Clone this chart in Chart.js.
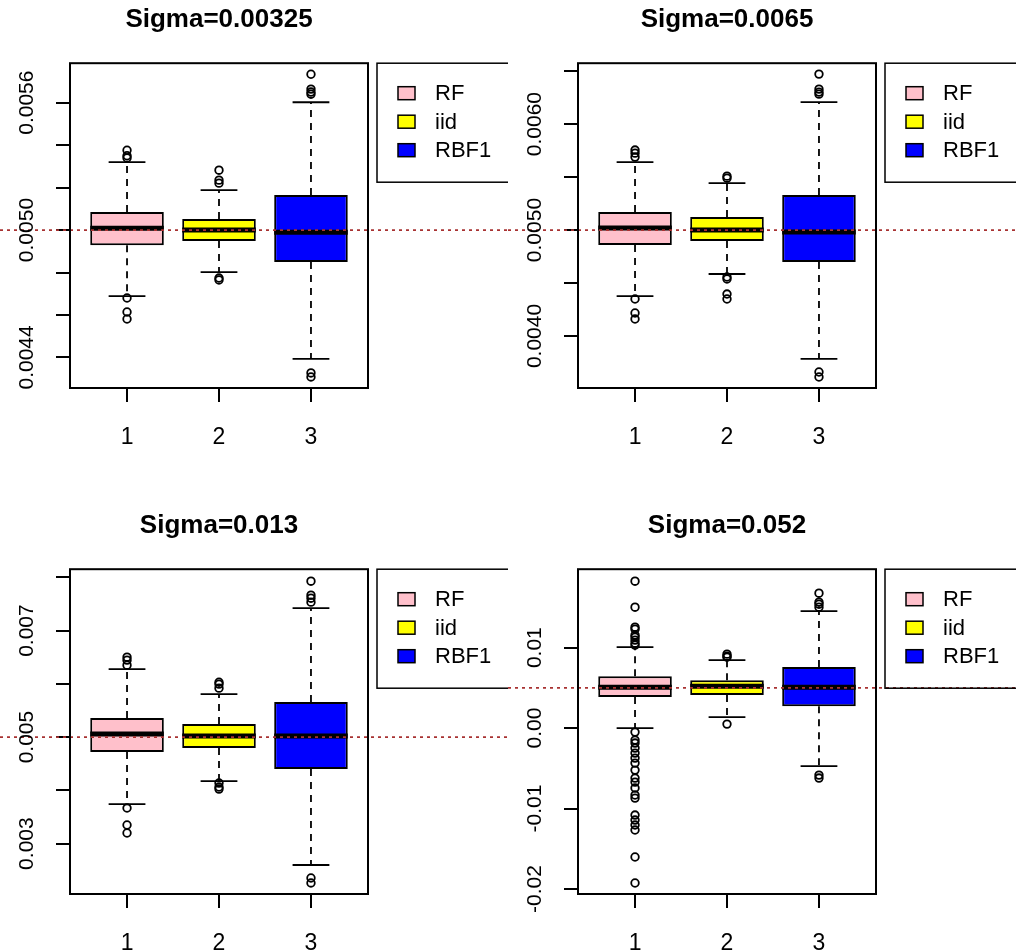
<!DOCTYPE html>
<html>
<head>
<meta charset="utf-8">
<title>Sigma boxplots</title>
<script src="https://cdn.jsdelivr.net/npm/chart.js@4.4.1/dist/chart.umd.min.js"></script>
<style>
  html, body { margin: 0; padding: 0; background: #fff; overflow: hidden; }
  #wrap { position: relative; width: 1016px; height: 951px; }
  .panel { position: absolute; width: 508px; height: 460px; }
</style>
</head>
<body>
<div id="wrap">
  <div class="panel" style="left:0;top:0"><canvas id="p0" width="508" height="460"></canvas></div>
  <div class="panel" style="left:508px;top:0"><canvas id="p1" width="508" height="460"></canvas></div>
  <div class="panel" style="left:0;top:506px"><canvas id="p2" width="508" height="460"></canvas></div>
  <div class="panel" style="left:508px;top:506px"><canvas id="p3" width="508" height="460"></canvas></div>
</div>
<script>
// Panel titles and groups
const titles = ["Sigma=0.00325", "Sigma=0.0065", "Sigma=0.013", "Sigma=0.052"];
const groups = [1, 2, 3];
const seriesNames = ["RF", "iid", "RBF1"];
const trueValue = 0.005;

// Box statistics, one row per panel, one column per method (RF, iid, RBF1)
const whiskerLow = [
  [0.004689, 0.004802, 0.004393],
  [0.004377, 0.004585, 0.003783],
  [0.003743, 0.004175, 0.002598],
  [0.0,      0.00137, -0.00472]
];
const boxLow = [
  [0.004929, 0.004948, 0.00485],
  [0.004858, 0.004896, 0.004698],
  [0.004719, 0.004794, 0.0044],
  [0.00385,  0.0041,   0.00273]
];
const medians = [
  [0.005009, 0.0050,   0.00499],
  [0.005019, 0.0050,   0.004981],
  [0.005056, 0.005019, 0.005019],
  [0.00509,  0.0052,   0.00509]
];
const boxHigh = [
  [0.005085, 0.005052, 0.005165],
  [0.00517,  0.005123, 0.00533],
  [0.005356, 0.005244, 0.005657],
  [0.00646,  0.00596,  0.00758]
];
const whiskerHigh = [
  [0.00532,  0.005188, 0.005602],
  [0.005642, 0.005443, 0.006208],
  [0.006276, 0.005806, 0.00742],
  [0.01006,  0.00845,  0.01453]
];
const outliers = [
  [
    [0.005376, 0.00535, 0.00534, 0.00468, 0.004614, 0.004581],
    [0.005282, 0.005235, 0.005221, 0.004774, 0.004765],
    [0.005734, 0.005664, 0.00565, 0.00564, 0.004327, 0.004308]
  ],
  [
    [0.005755, 0.005726, 0.005689, 0.004349, 0.004217, 0.00416],
    [0.005509, 0.00549, 0.004557, 0.004538, 0.004396, 0.004349],
    [0.006472, 0.00633, 0.006302, 0.006283, 0.00366, 0.003613]
  ],
  [
    [0.0065, 0.006444, 0.00635, 0.003668, 0.003349, 0.003199],
    [0.00603, 0.005994, 0.005919, 0.004137, 0.004062, 0.004024],
    [0.007927, 0.007664, 0.007608, 0.007533, 0.002355, 0.002261]
  ],
  [
    [0.01826, 0.01503, 0.01255, 0.0123, 0.01155, 0.0113, 0.01093, 0.01056, 0.01031,
     -0.0005, -0.00149, -0.00186, -0.00248, -0.00311, -0.00373, -0.00435, -0.00522,
     -0.00621, -0.00671, -0.00745, -0.00832, -0.0087, -0.01081, -0.01143, -0.01205,
     -0.01267, -0.01602, -0.01925],
    [0.00919, 0.00894, 0.00882, 0.0005],
    [0.01677, 0.01565, 0.0154, 0.01503, -0.00584, -0.00621]
  ]
];

// Y axis per panel
const yMin = [0.004256, 0.003509, 0.002054, -0.02062];
const yMax = [0.005786, 0.006575, 0.008152, 0.01975];
const yTicks = [
  [0.0044, 0.0046, 0.0048, 0.0050, 0.0052, 0.0054, 0.0056],
  [0.0040, 0.0045, 0.0050, 0.0055, 0.0060, 0.0065],
  [0.003, 0.004, 0.005, 0.006, 0.007, 0.008],
  [-0.02, -0.01, 0, 0.01]
];
const yLabels = [
  ["0.0044", "", "", "0.0050", "", "", "0.0056"],
  ["0.0040", "", "0.0050", "", "0.0060", ""],
  ["0.003", "", "0.005", "", "0.007", ""],
  ["-0.02", "-0.01", "0.00", "0.01"]
];

const boxColors = ["#FFC0CB", "#FFFF00", "#0000FF"];
const fontFamily = "'Liberation Sans', Arial, sans-serif";

Chart.defaults.font.family = fontFamily;
Chart.defaults.color = "#000";

// extra drawing: whiskers, medians, reference line, frame, y labels, legend
function boxExtras(p) {
  return {
    id: "boxExtras",
    beforeDatasetsDraw(chart) {
      const xs = chart.scales.x, ys = chart.scales.y, c = chart.ctx;
      c.save();
      c.strokeStyle = "#000";
      c.lineWidth = 1.8;
      groups.forEach((g, i) => {
        const x = xs.getPixelForValue(g);
        const half = xs.getPixelForValue(g + 0.2) - x;
        c.setLineDash([7, 6]);
        c.beginPath();
        c.moveTo(x, ys.getPixelForValue(boxHigh[p][i]));
        c.lineTo(x, ys.getPixelForValue(whiskerHigh[p][i]));
        c.moveTo(x, ys.getPixelForValue(boxLow[p][i]));
        c.lineTo(x, ys.getPixelForValue(whiskerLow[p][i]));
        c.stroke();
        c.setLineDash([]);
        c.beginPath();
        [whiskerHigh[p][i], whiskerLow[p][i]].forEach(v => {
          const y = ys.getPixelForValue(v);
          c.moveTo(x - half, y);
          c.lineTo(x + half, y);
        });
        c.stroke();
      });
      c.restore();
    },
    afterDatasetsDraw(chart) {
      const xs = chart.scales.x, ys = chart.scales.y, c = chart.ctx;
      c.save();
      c.strokeStyle = "#000";
      c.lineWidth = 5;
      groups.forEach((g, i) => {
        const y = ys.getPixelForValue(medians[p][i]);
        c.beginPath();
        c.moveTo(xs.getPixelForValue(g - 0.4), y);
        c.lineTo(xs.getPixelForValue(g + 0.4), y);
        c.stroke();
      });
      // reference line across the whole panel
      const ry = ys.getPixelForValue(trueValue);
      c.strokeStyle = "#a83232";
      c.lineWidth = 1.7;
      c.setLineDash([3, 4]);
      c.beginPath();
      c.moveTo(0, ry);
      c.lineTo(chart.width, ry);
      c.stroke();
      c.restore();
    },
    afterDraw(chart) {
      const a = chart.chartArea, ys = chart.scales.y, c = chart.ctx;
      c.save();
      c.strokeStyle = "#000";
      c.lineWidth = 2;
      c.strokeRect(a.left, a.top, a.right - a.left, a.bottom - a.top);

      // rotated y tick labels
      c.fillStyle = "#000";
      c.font = "21px " + fontFamily;
      c.textAlign = "center";
      c.textBaseline = "middle";
      yTicks[p].forEach((v, i) => {
        if (!yLabels[p][i]) return;
        c.save();
        c.translate(27, ys.getPixelForValue(v));
        c.rotate(-Math.PI / 2);
        c.fillText(yLabels[p][i], 0, 0);
        c.restore();
      });

      // legend box
      const lx = a.right + 9, ly = a.top;
      c.lineWidth = 1.5;
      c.strokeRect(lx, ly, 132, 119);
      c.font = "22px " + fontFamily;
      c.textAlign = "left";
      seriesNames.forEach((name, i) => {
        const cy = ly + 30 + i * 28.5;
        c.fillStyle = boxColors[i];
        c.fillRect(lx + 21, cy - 6.5, 17, 13);
        c.lineWidth = 1.5;
        c.strokeRect(lx + 21, cy - 6.5, 17, 13);
        c.fillStyle = "#000";
        c.fillText(name, lx + 58, cy + 1);
      });
      c.restore();
    }
  };
}

function makePanel(p) {
  const boxData = groups.map((g, i) => ({ x: g, y: [boxLow[p][i], boxHigh[p][i]] }));
  const outData = [];
  groups.forEach((g, i) => {
    outliers[p][i].forEach(v => outData.push({ x: g, y: v }));
  });

  return new Chart(document.getElementById("p" + p), {
    type: "bar",
    data: {
      datasets: [
        {
          type: "bar",
          label: "box",
          data: boxData,
          backgroundColor: boxColors,
          borderColor: "#000",
          borderWidth: 2,
          borderSkipped: false,
          categoryPercentage: 1,
          barPercentage: 0.8
        },
        {
          type: "scatter",
          label: "outliers",
          data: outData,
          pointStyle: "circle",
          radius: 3.8,
          borderWidth: 1.8,
          borderColor: "#000",
          backgroundColor: "rgba(0,0,0,0)"
        }
      ]
    },
    options: {
      responsive: false,
      animation: false,
      events: [],
      layout: { padding: { left: 0, right: 140, top: 0, bottom: 0 } },
      plugins: {
        legend: { display: false },
        tooltip: { enabled: false },
        title: {
          display: true,
          text: titles[p],
          fullSize: false,
          font: { size: 26, weight: "bold" },
          color: "#000",
          padding: { top: 4, bottom: 28 }
        }
      },
      scales: {
        x: {
          type: "linear",
          min: 0.38,
          max: 3.62,
          offset: false,
          afterBuildTicks: (scale) => { scale.ticks = groups.map(v => ({ value: v })); },
          afterFit: (scale) => { scale.height = 72; },
          ticks: { font: { size: 23 }, padding: 22, callback: (v) => String(v) },
          grid: { display: true, offset: false, drawOnChartArea: false, drawTicks: true, tickLength: 14, color: "#000", lineWidth: 2 },
          border: { display: false }
        },
        y: {
          type: "linear",
          min: yMin[p],
          max: yMax[p],
          beginAtZero: false,
          afterBuildTicks: (scale) => { scale.ticks = yTicks[p].map(v => ({ value: v })); },
          afterFit: (scale) => { scale.width = 70; },
          ticks: { display: false },
          grid: { display: true, drawOnChartArea: false, drawTicks: true, tickLength: 14, color: "#000", lineWidth: 2 },
          border: { display: false }
        }
      }
    },
    plugins: [boxExtras(p)]
  });
}

[0, 1, 2, 3].forEach(makePanel);
</script>
</body>
</html>
